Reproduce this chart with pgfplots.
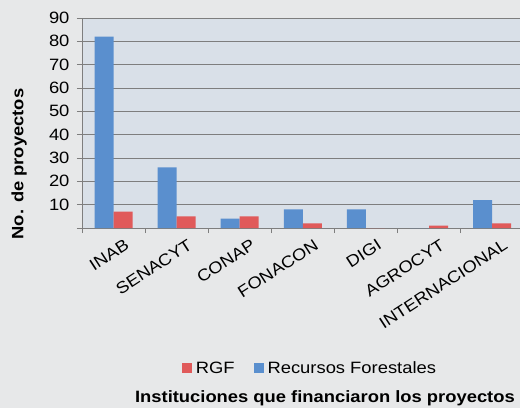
\documentclass[border=0pt]{standalone}
\usepackage{pgfplots}
\pgfplotsset{compat=1.18}
\usepackage{fontspec}
\setmainfont{Liberation Sans}[FakeStretch=1.12]
\definecolor{outerbg}{HTML}{E7E8E9}
\definecolor{plotbg}{HTML}{D9E0E8}
\definecolor{barblue}{HTML}{5A8FCE}
\definecolor{barred}{HTML}{E05A5A}
\definecolor{gridc}{HTML}{7E7E7E}
\begin{document}
\begin{tikzpicture}[x=1pt,y=1pt]
\clip (0,0) rectangle (520,408);
\fill[outerbg] (0,0) rectangle (520,408);
\begin{axis}[
  at={(82pt,180pt)}, anchor=south west,
  scale only axis, width=441.7pt, height=210pt,
  ybar=0pt, bar width=19pt,
  xmin=-0.5, xmax=6.5, ymin=0, ymax=90,
  axis background/.style={fill=plotbg},
  axis x line*=bottom, axis y line*=left,
  axis line style={gridc, line width=0.8pt},
  xtick={0,...,6},
  xticklabels={INAB,SENACYT,CONAP,FONACON,DIGI,AGROCYT,INTERNACIONAL},
  major x tick style={draw=none},
  minor xtick={-0.5,0.5,...,6.5},
  minor x tick style={gridc, line width=0.8pt},
  minor tick length=5pt,
  ytick={0,10,...,90},
  yticklabels={{},10,20,30,40,50,60,70,80,90},
  major tick length=5pt,
  tick align=outside,
  y tick style={gridc, line width=0.8pt},
  ymajorgrids, grid style={gridc, line width=0.8pt},
  tick label style={font=\fontsize{16.4}{16.4}\selectfont, text=black},
  x tick label style={rotate=33, anchor=north east, xshift=7pt, yshift=-9pt, inner sep=1pt},
  yticklabel style={xshift=-4pt},
  ylabel={No. de proyectos},
  ylabel style={font=\bfseries\fontsize{16.4}{16.4}\selectfont, at={(axis description cs:-0.1426,0.305)}, anchor=center, rotate=0},
  xlabel={Instituciones que financiaron los proyectos},
  xlabel style={font=\bfseries\fontsize{16.4}{16.4}\selectfont, at={(axis description cs:0.55,-0.81)}, anchor=center},
  legend style={at={(axis description cs:0.516,-0.667)}, anchor=center, draw=none, fill=none,
    font=\fontsize{16.4}{16.4}\selectfont, legend columns=2,
    /tikz/every even column/.append style={column sep=17pt},
    /tikz/every odd column/.append style={column sep=2pt}},
  legend image code/.code={\fill[#1] (0pt,-5pt) rectangle (10pt,5pt);},
  reverse legend,
]
\addplot[fill=barblue, draw=none] coordinates {(0,82) (1,26) (2,4) (3,8) (4,8) (5,0) (6,12)};
\addplot[fill=barred, draw=none] coordinates {(0,7) (1,5) (2,5) (3,2) (4,0) (5,1) (6,2)};
\legend{Recursos Forestales, RGF}
\end{axis}
\end{tikzpicture}
\end{document}
